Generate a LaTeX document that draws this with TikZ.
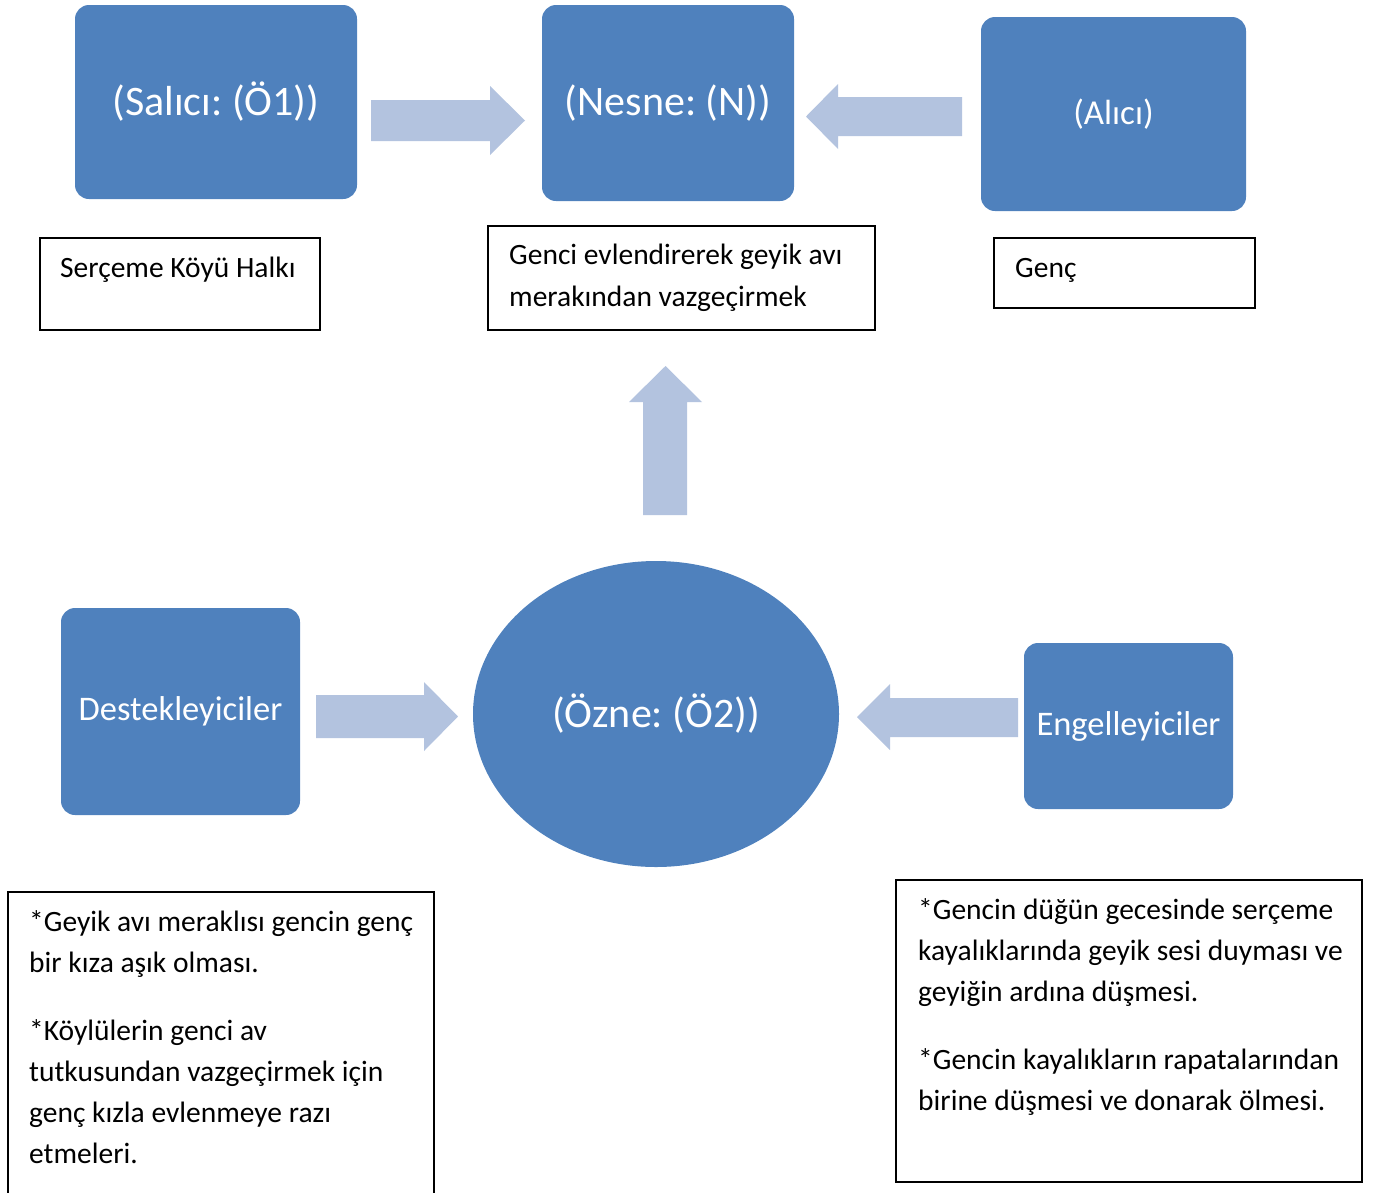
\documentclass[tikz,border=0pt]{standalone}
\usepackage{fontspec}
\setmainfont{Carlito}
\frenchspacing
\usetikzlibrary{shapes.geometric}
\definecolor{boxblue}{HTML}{4F81BD}
\definecolor{arrowblue}{HTML}{B3C3DF}
\begin{document}
\begin{tikzpicture}[x=1pt,y=-1pt,
  bluebox/.style={fill=boxblue, draw=none, rounded corners=14pt, text=white, inner sep=0pt},
  txtbox/.style={draw=black, line width=1.5pt, fill=white, inner sep=0pt},
  body/.style={font=\fontsize{29.5}{41}\selectfont, anchor=base west, inner sep=0pt},
  blockarrow/.style={fill=arrowblue, draw=none}]
\useasboundingbox (0,0) rectangle (1375,1192);
% blue boxes
\node[bluebox, minimum width=282pt, minimum height=194pt, font=\fontsize{42}{46}\selectfont] (salici) at (216,102) {(Salıcı: (Ö1))};
\node[bluebox, minimum width=252pt, minimum height=196pt, font=\fontsize{42}{46}\selectfont] (nesne) at (668,103) {(Nesne: (N))};
\node[bluebox, minimum width=265pt, minimum height=194pt, font=\fontsize{35}{40}\selectfont] (alici) at (1113.5,114) {(Alıcı)};
\node[bluebox, minimum width=239pt, minimum height=207pt, font=\fontsize{34.5}{40}\selectfont] (destek) at (180.5,711.5) {Destekleyiciler};
\node[bluebox, minimum width=209pt, minimum height=166pt, font=\fontsize{34.5}{40}\selectfont] (engel) at (1128.5,726) {Engelleyiciler};
\node[fill=boxblue, draw=none, ellipse, minimum width=366pt, minimum height=306pt, inner sep=0pt, text=white, font=\fontsize{42}{46}\selectfont] (ozne) at (656,714) {(Özne: (Ö2))};
% block arrows
\fill[blockarrow] (371,100) -- (490,100) -- (490,86) -- (525,120.5) -- (490,155) -- (490,141) -- (371,141) -- cycle;
\fill[blockarrow] (962,97) -- (838,97) -- (838,84) -- (806,116.5) -- (838,149) -- (838,136) -- (962,136) -- cycle;
\fill[blockarrow] (643,515) -- (643,402) -- (629,402) -- (665.5,366) -- (702,402) -- (687,402) -- (687,515) -- cycle;
\fill[blockarrow] (316,695) -- (424,695) -- (424,682) -- (458,716.5) -- (424,751) -- (424,738) -- (316,738) -- cycle;
\fill[blockarrow] (1018,698) -- (890,698) -- (890,684) -- (857,717) -- (890,750) -- (890,737) -- (1018,737) -- cycle;
% text boxes
\node[txtbox, minimum width=280pt, minimum height=92pt] (halk) at (180,284) {};
\node[body] (halkt) at (60,277) {Serçeme Köyü Halkı};
\node[txtbox, minimum width=387pt, minimum height=104pt] (amac) at (681.5,278) {};
\node[body] (amac1) at (509,264) {Genci evlendirerek geyik avı};
\node[body] (amac2) at (509,306) {merakından vazgeçirmek};
\node[txtbox, minimum width=261pt, minimum height=70pt] (genc) at (1124.5,273) {};
\node[body] (genct) at (1015,277) {Genç};
\node[txtbox, minimum width=426pt, minimum height=310pt] (destekt) at (221,1047) {};
\node[body] (d1) at (29,931) {*Geyik avı meraklısı gencin genç};
\node[body] (d2) at (29,972) {bir kıza aşık olması.};
\node[body] (d3) at (29,1040) {*Köylülerin genci av};
\node[body] (d4) at (29,1081) {tutkusundan vazgeçirmek için};
\node[body] (d5) at (29,1122) {genç kızla evlenmeye razı};
\node[body] (d6) at (29,1163) {etmeleri.};
\node[txtbox, minimum width=466pt, minimum height=302pt] (engelt) at (1129,1031) {};
\node[body] (e1) at (918,919) {*Gencin düğün gecesinde serçeme};
\node[body] (e2) at (918,960) {kayalıklarında geyik sesi duyması ve};
\node[body] (e3) at (918,1001) {geyiğin ardına düşmesi.};
\node[body] (e4) at (918,1069) {*Gencin kayalıkların rapatalarından};
\node[body] (e5) at (918,1110) {birine düşmesi ve donarak ölmesi.};
\end{tikzpicture}
\end{document}
